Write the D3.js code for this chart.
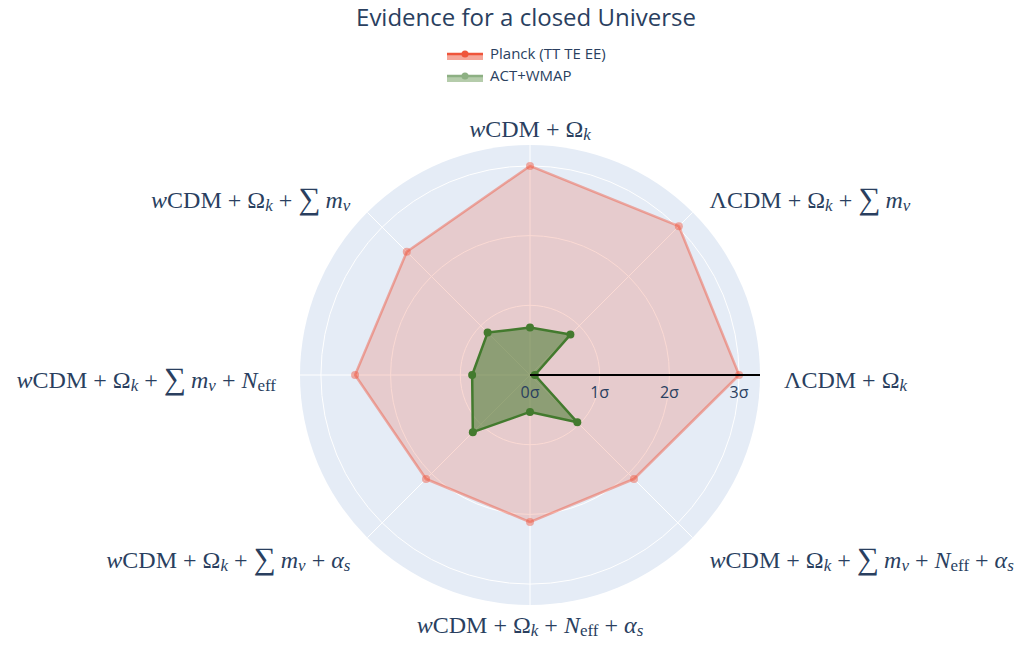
<!DOCTYPE html>
<html>
<head>
<meta charset="utf-8">
<script src="https://cdn.jsdelivr.net/npm/d3@7"></script>
<style>
  body { margin: 0; background: #fff; }
  text.sans { font-family: "Open Sans", sans-serif; }
  text.math { font-family: "Liberation Serif", "Times New Roman", serif; }
</style>
</head>
<body>
<div id="GraphDiv"></div>
<script>
// Global variables.
let width = 1019
let height = 646
let center = {"x": 530, "y": 375}
let outerRadius = 230
let radialMax = 3.3
const textColour = "#2a3f5f"

// Data: significance (in sigma) of a closed Universe, per model.
// Labels are token lists: [text, style] with style "" roman, "i" italic,
// "si" italic subscript, "s" roman subscript, "sum" big summation sign, "op" plus.
const modelLabels = [
    [["Λ"], ["CDM"], ["+", "op"], ["Ω"], ["k", "si"]],
    [["Λ"], ["CDM"], ["+", "op"], ["Ω"], ["k", "si"], ["+", "op"], ["∑", "sum"], ["m", "i"], ["ν", "si"]],
    [["w", "i"], ["CDM"], ["+", "op"], ["Ω"], ["k", "si"]],
    [["w", "i"], ["CDM"], ["+", "op"], ["Ω"], ["k", "si"], ["+", "op"], ["∑", "sum"], ["m", "i"], ["ν", "si"]],
    [["w", "i"], ["CDM"], ["+", "op"], ["Ω"], ["k", "si"], ["+", "op"], ["∑", "sum"], ["m", "i"], ["ν", "si"], ["+", "op"], ["N", "i"], ["eff", "s"]],
    [["w", "i"], ["CDM"], ["+", "op"], ["Ω"], ["k", "si"], ["+", "op"], ["∑", "sum"], ["m", "i"], ["ν", "si"], ["+", "op"], ["α", "i"], ["s", "si"]],
    [["w", "i"], ["CDM"], ["+", "op"], ["Ω"], ["k", "si"], ["+", "op"], ["N", "i"], ["eff", "s"], ["+", "op"], ["α", "i"], ["s", "si"]],
    [["w", "i"], ["CDM"], ["+", "op"], ["Ω"], ["k", "si"], ["+", "op"], ["∑", "sum"], ["m", "i"], ["ν", "si"], ["+", "op"], ["N", "i"], ["eff", "s"], ["+", "op"], ["α", "i"], ["s", "si"]]
]
const planckValues = [3.0, 3.02, 3.0, 2.5, 2.51, 2.11, 2.11, 2.11]
const actValues = [0.07, 0.82, 0.68, 0.86, 0.83, 1.16, 0.53, 0.96]
const radialTicks = [0, 1, 2, 3]
const seriesNames = ["Planck (TT TE EE)", "ACT+WMAP"]

// Main svg element.
let svgRoot = d3.select("#GraphDiv")
    .append("svg")
    .attr("width", width)
    .attr("height", height)
svgRoot.append("rect").attr("width", width).attr("height", height).attr("fill", "#fff")

let svg = svgRoot.append("g")
    .attr("transform", "translate(" + center.x + "," + center.y + ")");

// Scales.
let rRange = d3.scaleLinear().domain([0, radialMax]).range([0, outerRadius]);
let angleRange = d3.scaleLinear().domain([0, modelLabels.length]).range([Math.PI / 2, Math.PI / 2 - 2 * Math.PI]);

function px(i, r) { return r * Math.sin(angleRange(i)); }
function py(i, r) { return -r * Math.cos(angleRange(i)); }

// Polar background and grid.
svg.append("circle").attr("r", outerRadius).attr("fill", "#E5ECF6");
svg.append("g").selectAll("circle")
    .data(radialTicks.filter(d => d > 0))
    .enter().append("circle")
    .attr("r", d => rRange(d))
    .attr("fill", "none")
    .attr("stroke", "#fff")
    .attr("stroke-width", 1);
svg.append("g").selectAll("line")
    .data(modelLabels.map((d, i) => i))
    .enter().append("line")
    .attr("x1", 0).attr("y1", 0)
    .attr("x2", i => px(i, outerRadius))
    .attr("y2", i => py(i, outerRadius))
    .attr("stroke", "#fff")
    .attr("stroke-width", 1);

// Radar traces.
let radial = d3.lineRadial()
    .angle((d, i) => angleRange(i))
    .radius(d => rRange(d))
    .curve(d3.curveLinearClosed);

function drawTrace(values, colour, fillOpacity, lineOpacity) {
    let g = svg.append("g");
    g.append("path")
        .attr("d", radial(values))
        .attr("fill", colour)
        .attr("fill-opacity", fillOpacity)
        .attr("stroke", "none");
    g.append("path")
        .attr("d", radial(values))
        .attr("fill", "none")
        .attr("stroke", colour)
        .attr("stroke-opacity", lineOpacity)
        .attr("stroke-width", 2.5)
        .attr("stroke-linejoin", "round");
    g.selectAll("circle")
        .data(values)
        .enter().append("circle")
        .attr("cx", (d, i) => px(i, rRange(d)))
        .attr("cy", (d, i) => py(i, rRange(d)))
        .attr("r", 4)
        .attr("fill", colour)
        .attr("fill-opacity", lineOpacity);
}
drawTrace(planckValues, "#EF553B", 0.22, 0.45);
drawTrace(actValues, "#437A2E", 0.55, 1);

// Radial axis line and tick labels.
svg.append("line")
    .attr("x1", rRange(0)).attr("y1", 0)
    .attr("x2", rRange(radialMax)).attr("y2", 0)
    .attr("stroke", "#000")
    .attr("stroke-width", 2);
svg.append("g").selectAll("text")
    .data(radialTicks)
    .enter().append("text")
    .attr("class", "sans")
    .attr("x", d => rRange(d))
    .attr("y", 23)
    .attr("text-anchor", "middle")
    .attr("font-size", 16)
    .attr("fill", textColour)
    .text(d => d + "σ");

// Angular labels, built from the token lists.
let labelPad = 24
let labels = svg.append("g").attr("fill", textColour);
modelLabels.forEach(function(tokens, i) {
    let cosA = Math.sin(angleRange(i));
    let sinA = -Math.cos(angleRange(i));
    let anchor = Math.abs(cosA) < 0.1 ? "middle" : (cosA > 0 ? "start" : "end");
    let lx = px(i, outerRadius + labelPad);
    let ly = py(i, outerRadius + labelPad);
    let dy = Math.abs(sinA) > 0.9 ? (sinA > 0 ? -2 : 10) : 7;
    let t = labels.append("text")
        .attr("class", "math")
        .attr("x", lx)
        .attr("y", ly + dy)
        .attr("font-size", 24)
        .attr("text-anchor", anchor)
        .attr("dominant-baseline", "middle");
    let shift = 0;
    tokens.forEach(function(tok) {
        let style = tok[1] || "";
        let span = t.append("tspan").text(tok[0]);
        let wantShift = (style === "si" || style === "s") ? 5 : 0;
        if (wantShift !== shift) { span.attr("dy", wantShift - shift); shift = wantShift; }
        if (style === "i" || style === "si") span.style("font-style", "italic");
        if (style === "si" || style === "s") span.style("font-size", "17px");
        if (style === "op") span.text("\u2005+\u2005");
        if (style === "sum") span.style("font-size", "31px").text("∑\u2006");
    });
});

// Title.
svgRoot.append("text")
    .attr("class", "sans")
    .attr("x", 526)
    .attr("y", 26)
    .attr("text-anchor", "middle")
    .attr("font-size", 24)
    .attr("fill", textColour)
    .text("Evidence for a closed Universe");

// Legend.
let legendColours = [["#EF553B", "#F5A79A"], ["#8DB083", "#B5CCAB"]]
let legend = svgRoot.append("g").attr("transform", "translate(447, 54)");
seriesNames.forEach(function(name, i) {
    let row = legend.append("g").attr("transform", "translate(0," + (i * 22) + ")");
    row.append("rect").attr("x", 0).attr("y", 0).attr("width", 36).attr("height", 6)
        .attr("fill", legendColours[i][1]);
    row.append("line").attr("x1", 0).attr("x2", 36).attr("y1", 0).attr("y2", 0)
        .attr("stroke", legendColours[i][0]).attr("stroke-width", 2.5);
    row.append("circle").attr("cx", 18).attr("cy", 0).attr("r", 3.5).attr("fill", legendColours[i][0]);
    row.append("text").attr("class", "sans").attr("x", 43).attr("y", 5)
        .attr("font-size", 15)
        .attr("fill", textColour)
        .text(name);
});
</script>
</body>
</html>
